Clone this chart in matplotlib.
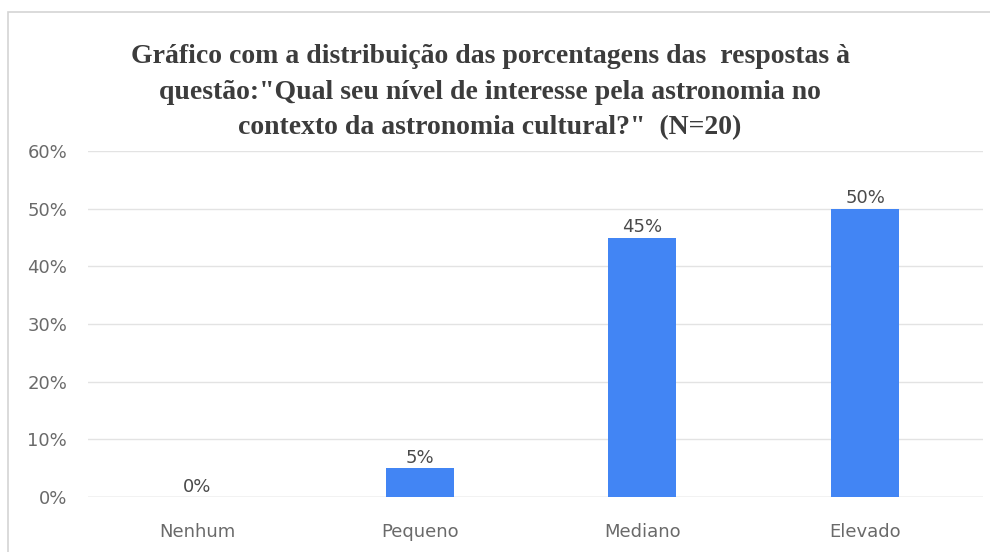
import matplotlib
matplotlib.use('Agg')
import matplotlib.pyplot as plt
from matplotlib.patches import Rectangle
from matplotlib.ticker import PercentFormatter

categories = ['Nenhum', 'Pequeno', 'Mediano', 'Elevado']
values = [0, 5, 45, 50]
y_ticks = [0, 10, 20, 30, 40, 50, 60]

title = ('Gráfico com a distribuição das porcentagens das  respostas à\n'
         'questão:"Qual seu nível de interesse pela astronomia no\n'
         'contexto da astronomia cultural?"  (N=20)')

BLUE = '#4285f4'
TEXT = '#6a6a6a'
SANS = 'DejaVu Sans'

fig = plt.figure(figsize=(9.9, 5.52), dpi=100)

# light frame around the chart area
fig.patches.append(Rectangle((8 / 990, -0.05), 1.0, (540 + 0.05 * 552) / 552,
                             transform=fig.transFigure, fill=False,
                             edgecolor='#d4d4d4', linewidth=1.2))

ax = fig.add_axes([88 / 990, 55 / 552, 895 / 990, 346 / 552])
x = list(range(len(categories)))
bars = ax.bar(x, values, width=0.305, color=BLUE, zorder=3)

for rect, v in zip(bars, values):
    ax.annotate(f'{v}%', (rect.get_x() + rect.get_width() / 2, v),
                xytext=(0, 1), textcoords='offset points',
                ha='center', va='bottom', fontsize=13, color='#4a4a4a',
                family=SANS)

ax.set_xlim(-0.49, 3.53)
ax.set_ylim(0, 60)
ax.set_yticks(y_ticks)
ax.yaxis.set_major_formatter(PercentFormatter(decimals=0))
ax.set_xticks(x)
ax.set_xticklabels(categories)
ax.grid(axis='y', color='#e3e3e3', linewidth=1, zorder=0)
for s in ax.spines.values():
    s.set_visible(False)
ax.axhline(0, color='#d6d6d6', linewidth=1, zorder=1)
ax.tick_params(length=0, labelsize=13, labelcolor=TEXT)
ax.tick_params(axis='y', pad=15)
ax.tick_params(axis='x', pad=19)
for lbl in ax.get_xticklabels() + ax.get_yticklabels():
    lbl.set_family(SANS)

fig.text(0.495, 1 - 44 / 552, title, ha='center', va='top',
         fontsize=20, fontweight='bold', family='Liberation Serif',
         color='#3c3c3c', linespacing=1.56)

fig.savefig('out.png', dpi=100)
